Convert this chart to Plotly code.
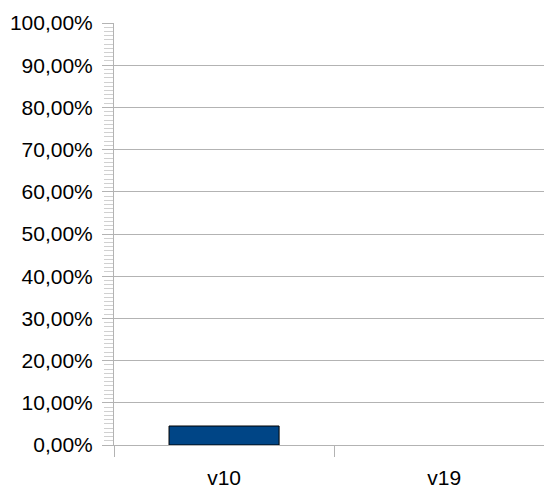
import plotly.graph_objects as go

categories = ["v10", "v19"]
values = [0.045, None]

BAR_BLUE = "#004586"
GRID = "#b3b3b3"
MINOR = "#d0d0d0"

fig = go.Figure()
fig.add_trace(go.Bar(
    x=categories, y=values, width=0.5,
    marker=dict(color=BAR_BLUE, line=dict(color="#000000", width=1)),
    showlegend=False,
))

# the page body has an 8px margin, so the figure is a bit smaller than the window
fig.update_layout(
    width=544, height=481,
    paper_bgcolor="white", plot_bgcolor="white",
    separators=", ",
    font=dict(family="Liberation Sans, Arial, sans-serif", size=21, color="#000000"),
    margin=dict(l=106, r=0, t=15, b=44),
    xaxis=dict(
        range=[-0.5, 1.49], tickson="boundaries", ticks="outside", ticklen=11,
        tickcolor=GRID, showline=True, linecolor=GRID, showgrid=False,
        ticklabelstandoff=14, automargin=False,
    ),
    yaxis=dict(
        range=[0, 1], dtick=0.1, tickformat=".2%",
        ticks="outside", ticklen=11, tickcolor=GRID,
        showgrid=True, gridcolor=GRID, gridwidth=1,
        showline=True, linecolor=GRID, zeroline=False,
        minor=dict(dtick=0.01, ticks="outside", ticklen=9, tickcolor=MINOR, showgrid=False),
        ticklabelstandoff=5, automargin=False,
    ),
)

fig.write_html("out.html")
